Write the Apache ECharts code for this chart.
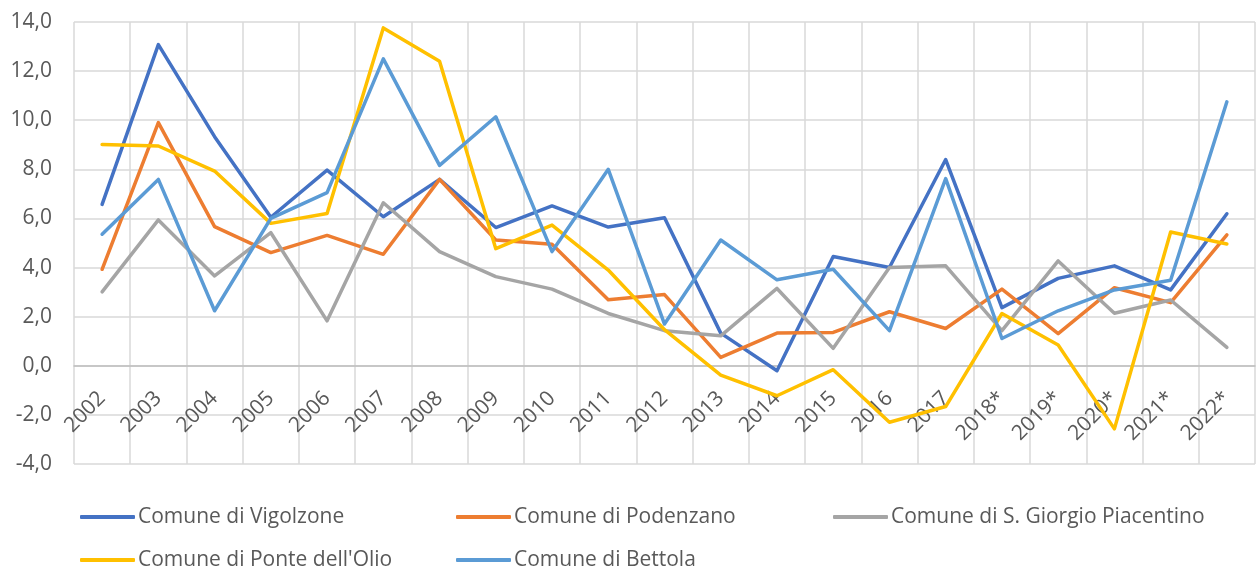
<!DOCTYPE html>
<html>
<head>
<meta charset="utf-8">
<script src="https://cdn.jsdelivr.net/npm/echarts@6/dist/echarts.min.js"></script>
<style>html,body{margin:0;padding:0;background:#fff}#c{width:1256px;height:569px}</style>
</head>
<body>
<div id="c"></div>
<script>
const categories = ['2002','2003','2004','2005','2006','2007','2008','2009','2010','2011','2012','2013','2014','2015','2016','2017','2018*','2019*','2020*','2021*','2022*'];
const seriesNames = ['Comune di Vigolzone','Comune di Podenzano','Comune di S. Giorgio Piacentino',"Comune di Ponte dell'Olio",'Comune di Bettola'];
const vigolzone = [6.57,13.08,9.33,6.05,7.97,6.07,7.59,5.63,6.51,5.65,6.03,1.33,-0.2,4.45,4.0,8.4,2.37,3.56,4.07,3.09,6.19];
const podenzano = [3.93,9.9,5.67,4.61,5.31,4.54,7.59,5.12,4.95,2.69,2.9,0.34,1.33,1.36,2.2,1.52,3.12,1.31,3.18,2.57,5.33];
const sGiorgio = [3.01,5.94,3.66,5.42,1.83,6.64,4.65,3.63,3.12,2.13,1.43,1.22,3.15,0.71,4.0,4.07,1.43,4.27,2.14,2.68,0.75];
const ponteOlio = [9.01,8.95,7.93,5.8,6.2,13.76,12.4,4.77,5.73,3.9,1.47,-0.38,-1.22,-0.16,-2.3,-1.66,2.13,0.85,-2.57,5.45,4.96];
const bettola = [5.36,7.59,2.24,6.0,7.05,12.5,8.16,10.14,4.65,8.0,1.7,5.12,3.5,3.93,1.43,7.62,1.11,2.24,3.09,3.48,10.75];
const seriesData = [vigolzone, podenzano, sGiorgio, ponteOlio, bettola];
const colors = ['#4472C4','#ED7D31','#A5A5A5','#FFC000','#5B9BD5'];

const FONT = 'Open Sans';
const TXT = '#595959';
const legendPos = [[80,505],[456,505],[833,505],[80,548],[456,548]];

const chart = echarts.init(document.getElementById('c'), null, {renderer:'canvas'});
chart.setOption({
  animation: false,
  color: colors,
  grid: {left: 74, right: 1, top: 22, bottom: 105, containLabel: false},
  legend: seriesNames.map((n, i) => ({
    data: [n], left: legendPos[i][0], top: legendPos[i][1],
    icon: 'roundRect', itemWidth: 55, itemHeight: 4, itemGap: 0,
    textStyle: {color: TXT, fontFamily: FONT, fontSize: 21, lineHeight: 24, padding: [0, 0, 0, -2]},
    padding: 0
  })),
  xAxis: {
    type: 'category', data: categories, boundaryGap: true,
    offset: -98,
    axisLine: {onZero: false, lineStyle: {color: '#BFBFBF', width: 1.5}},
    axisTick: {show: false},
    splitLine: {show: true, interval: 0, lineStyle: {color: '#D9D9D9', width: 1.5}},
    axisLabel: {interval: 0, rotate: 45, margin: 29, color: TXT, fontFamily: FONT, fontSize: 21}
  },
  yAxis: {
    type: 'value', min: -4, max: 14, interval: 2,
    axisLine: {show: false}, axisTick: {show: false},
    splitLine: {lineStyle: {color: '#D9D9D9', width: 1.5}},
    axisLabel: {margin: 22, color: TXT, fontFamily: FONT, fontSize: 21,
      formatter: v => v.toFixed(1).replace('.', ',')}
  },
  series: seriesNames.map((n, i) => ({
    name: n, type: 'line', data: seriesData[i],
    symbol: 'none', showSymbol: false,
    lineStyle: {width: 3.5, color: colors[i], cap: 'round', join: 'round'},
    itemStyle: {color: colors[i]}
  }))
});
</script>
</body>
</html>
